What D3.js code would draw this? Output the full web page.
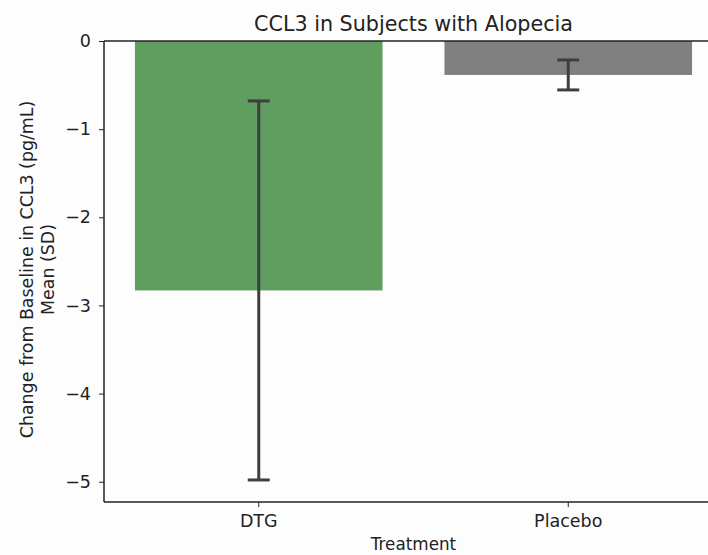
<!DOCTYPE html>
<html lang="en">
<head>
<meta charset="utf-8">
<title>CCL3 in Subjects with Alopecia</title>
<script src="https://d3js.org/d3.v7.min.js"></script>
<style>
  body { margin: 0; background: #fdfdfe; overflow: hidden; }
  text { font-family: "DejaVu Sans", sans-serif; fill: #222; }
</style>
</head>
<body>
<script>
// data
const treatments = ["DTG", "Placebo"];
const means = [-2.83, -0.385];
const sds = [2.15, 0.17];
const barColors = ["#5f9e5f", "#808080"];
const yTicks = [0, -1, -2, -3, -4, -5];

const w = 708, h = 555;
const margin = {top: 41, right: -15, bottom: 53, left: 104};

const svg = d3.select("body").append("svg")
    .attr("width", w)
    .attr("height", h);

const x = d3.scaleBand()
    .domain(treatments)
    .range([margin.left, w - margin.right])
    .paddingInner(0.2)
    .paddingOuter(0.1);

const y = d3.scaleLinear()
    .domain([-5.23, 0])
    .range([h - margin.bottom, margin.top]);

// bars
svg.selectAll("rect.bar")
    .data(treatments)
    .enter()
    .append("rect")
    .attr("class", "bar")
    .attr("x", d => x(d))
    .attr("width", x.bandwidth())
    .attr("y", y(0))
    .attr("height", (d, i) => y(means[i]) - y(0))
    .style("fill", (d, i) => barColors[i]);

// error bars
const cx = d => x(d) + x.bandwidth() / 2;
const err = svg.append("g")
    .attr("stroke", "#3f3f3f")
    .attr("stroke-width", 3);
treatments.forEach(function(t, i) {
  const top = y(means[i] + sds[i]), bot = y(means[i] - sds[i]);
  err.append("line").attr("x1", cx(t)).attr("x2", cx(t)).attr("y1", top).attr("y2", bot);
  err.append("line").attr("x1", cx(t) - 11).attr("x2", cx(t) + 11).attr("y1", top).attr("y2", top);
  err.append("line").attr("x1", cx(t) - 11).attr("x2", cx(t) + 11).attr("y1", bot).attr("y2", bot);
});

// axes
const yAxis = svg.append("g")
    .attr("transform", "translate(" + margin.left + ",0)")
    .call(d3.axisLeft(y).tickValues(yTicks).tickSize(5).tickPadding(8)
      .tickFormat(d => d < 0 ? "\u2212" + Math.abs(d) : d));
const xAxis = svg.append("g")
    .attr("transform", "translate(0," + (h - margin.bottom) + ")")
    .call(d3.axisBottom(x).tickSize(5).tickPadding(8));

[yAxis, xAxis].forEach(function(a) {
  a.select(".domain").attr("stroke", "#222").attr("stroke-width", 1.5);
  a.selectAll(".tick line").attr("stroke", "#222");
  a.selectAll(".tick text").style("font-size", "17.5px").style("fill", "#222");
});
xAxis.select(".domain").attr("d", "M" + margin.left + ",0H" + w);
yAxis.select(".domain").attr("d", "M0," + (h - margin.bottom) + "V" + margin.top);

// top spine
svg.append("line")
    .attr("x1", margin.left).attr("x2", w)
    .attr("y1", margin.top).attr("y2", margin.top)
    .attr("stroke", "#222").attr("stroke-width", 1.5);

// labels
const midX = (margin.left + w - margin.right) / 2;
svg.append("text")
    .attr("x", midX).attr("y", 31)
    .attr("text-anchor", "middle")
    .style("font-size", "20.7px")
    .text("CCL3 in Subjects with Alopecia");

svg.append("text")
    .attr("x", midX).attr("y", 550)
    .attr("text-anchor", "middle")
    .style("font-size", "16.8px")
    .text("Treatment");

const midY = (margin.top + h - margin.bottom) / 2;
const yl = svg.append("text")
    .attr("transform", "translate(33," + (midY - 2) + ") rotate(-90)")
    .attr("text-anchor", "middle")
    .style("font-size", "17.4px");
yl.append("tspan").attr("x", 0).attr("dy", 0).text("Change from Baseline in CCL3 (pg/mL)");
yl.append("tspan").attr("x", 0).attr("dy", 21).text("Mean (SD)");
</script>
</body>
</html>
